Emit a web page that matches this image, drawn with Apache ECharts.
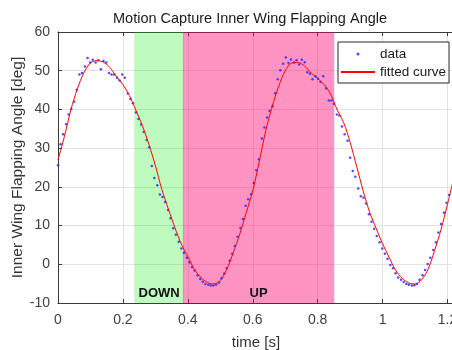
<!DOCTYPE html>
<html>
<head>
<meta charset="utf-8">
<script src="https://cdn.jsdelivr.net/npm/echarts@6/dist/echarts.min.js"></script>
<style>
  html, body { margin: 0; padding: 0; background: #fff; }
  #chart { width: 452px; height: 350px; }
</style>
</head>
<body>
<div id="chart"></div>
<script>
// measured samples
const dataTime = [
  0.000, 0.008, 0.016, 0.025, 0.033, 0.041, 0.050, 0.058, 0.066, 0.074,
  0.083, 0.091, 0.099, 0.107, 0.116, 0.124, 0.132, 0.140, 0.149, 0.157,
  0.165, 0.173, 0.182, 0.190, 0.198, 0.206, 0.215, 0.223, 0.231, 0.240,
  0.248, 0.256, 0.264, 0.273, 0.281, 0.289, 0.297, 0.306, 0.314, 0.322,
  0.330, 0.339, 0.347, 0.355, 0.363, 0.372, 0.380, 0.388, 0.397, 0.405,
  0.413, 0.421, 0.430, 0.438, 0.446, 0.454, 0.463, 0.471, 0.479, 0.487,
  0.496, 0.504, 0.512, 0.520, 0.529, 0.537, 0.545, 0.553, 0.562, 0.570,
  0.578, 0.586, 0.595, 0.603, 0.611, 0.619, 0.628, 0.636, 0.644, 0.652,
  0.661, 0.669, 0.677, 0.685, 0.694, 0.702, 0.710, 0.718, 0.727, 0.735,
  0.743, 0.751, 0.760, 0.768, 0.776, 0.784, 0.793, 0.801, 0.809, 0.817,
  0.826, 0.834, 0.842, 0.850, 0.859, 0.867, 0.875, 0.883, 0.892, 0.900,
  0.908, 0.916, 0.925, 0.933, 0.941, 0.949, 0.958, 0.966, 0.974, 0.982,
  0.991, 0.999, 1.007, 1.015, 1.024, 1.032, 1.040, 1.048, 1.057, 1.065,
  1.073, 1.081, 1.090, 1.098, 1.106, 1.114, 1.123, 1.131, 1.139, 1.147,
  1.156, 1.164, 1.172, 1.180, 1.189, 1.197, 1.205
];
const dataAngle = [
  25.6, 31.0, 33.6, 36.2, 38.7, 40.1, 42.0, 45.1, 49.0, 49.4,
  51.1, 53.3, 52.1, 52.8, 52.1, 52.7, 50.4, 52.5, 52.1, 49.4,
  49.0, 49.0, 48.2, 47.5, 49.0, 48.2, 44.1, 42.7, 41.6, 39.2,
  37.5, 36.1, 34.2, 32.1, 30.2, 25.4, 22.3, 20.4, 18.0, 17.4,
  16.1, 14.0, 11.9, 9.3, 7.6, 5.8, 4.1, 3.0, 1.7, 0.5,
  -0.7, -1.6, -2.8, -3.8, -4.5, -5.1, -5.3, -5.5, -5.5, -5.2,
  -4.7, -3.6, -2.4, -1.0, 0.9, 2.7, 4.7, 7.1, 9.4, 11.7,
  15.1, 16.8, 18.1, 21.0, 24.3, 27.1, 32.5, 35.3, 37.9, 39.6,
  40.8, 44.2, 47.8, 50.1, 51.8, 53.4, 52.0, 52.9, 52.1, 52.7,
  51.6, 52.8, 52.2, 49.6, 49.2, 47.8, 48.6, 47.9, 47.1, 48.6,
  45.5, 42.3, 42.3, 41.4, 38.7, 38.4, 35.6, 33.6, 31.9, 27.5,
  24.1, 22.6, 19.6, 17.6, 17.2, 15.7, 12.9, 11.0, 9.2, 7.3,
  5.7, 4.1, 2.7, 1.4, -0.2, -1.0, -2.3, -3.4, -4.0, -4.6,
  -5.1, -5.3, -5.5, -5.4, -5.1, -4.0, -2.8, -1.5, 0.1, 1.7,
  3.7, 5.7, 8.2, 10.4, 13.3, 15.9, 17.9
];

// fitted curve, read every 0.02 s
const fitTime = [
  0.00, 0.02, 0.04, 0.06, 0.08, 0.10, 0.12, 0.14, 0.16, 0.18,
  0.20, 0.22, 0.24, 0.26, 0.28, 0.30, 0.32, 0.34, 0.36, 0.38,
  0.40, 0.42, 0.44, 0.46, 0.48, 0.50, 0.52, 0.54, 0.56, 0.58,
  0.60, 0.62, 0.64, 0.66, 0.68, 0.70, 0.72, 0.74, 0.76, 0.78,
  0.80, 0.82, 0.84, 0.86, 0.88, 0.90, 0.92, 0.94, 0.96, 0.98,
  1.00, 1.02, 1.04, 1.06, 1.08, 1.10, 1.12, 1.14, 1.16, 1.18,
  1.20, 1.22
];
const fitAngle = [
  27.0, 33.1, 40.0, 45.4, 49.5, 52.0, 52.6, 52.2, 50.8, 48.5,
  46.4, 43.6, 39.8, 35.8, 31.0, 25.5, 19.3, 14.3, 9.5, 5.2,
  2.0, -1.3, -3.4, -4.7, -5.1, -4.2, -1.3, 3.0, 7.8, 13.4,
  19.0, 26.5, 34.5, 40.8, 46.0, 50.0, 52.0, 52.1, 51.2, 49.4,
  48.0, 46.4, 43.9, 39.9, 36.6, 31.5, 25.3, 19.0, 13.5, 9.3,
  5.3, 1.8, -1.5, -3.6, -4.8, -5.1, -4.0, -1.3, 3.5, 9.0,
  15.5, 22.5
];

// stroke phases [start, end] in s
const downPhase = [0.235, 0.388];
const upPhase = [0.385, 0.851];

const font = 'Liberation Sans, Arial, sans-serif';
const axisColor = '#3a3a3a';

const chart = echarts.init(document.getElementById('chart'));

const option = {
  animation: false,
  title: {
    text: 'Motion Capture Inner Wing Flapping Angle',
    left: 113,
    top: 11,
    padding: 0,
    textStyle: { fontFamily: font, fontSize: 14.5, fontWeight: 'normal', color: '#1a1a1a' }
  },
  legend: {
    orient: 'vertical',
    left: 338,
    top: 42,
    padding: [4, 3, 3, 2],
    itemWidth: 34,
    itemHeight: 3,
    itemGap: 2,
    backgroundColor: '#fff',
    borderColor: '#262626',
    borderWidth: 1,
    textStyle: { fontFamily: font, fontSize: 13.5, color: '#1a1a1a', lineHeight: 16 },
    data: [
      { name: 'data', icon: 'circle' },
      { name: 'fitted curve' }
    ]
  },
  grid: { left: 58, right: -2, top: 32, bottom: 47, containLabel: false, outerBoundsMode: 'none' },
  xAxis: [
    {
      type: 'value',
      min: 0,
      max: 1.22,
      interval: 0.2,
      name: 'time [s]',
      nameLocation: 'middle',
      nameGap: 32,
      nameMoveOverlap: false,
      nameTextStyle: { fontFamily: font, fontSize: 15, color: '#333' },
      axisLine: { onZero: false, lineStyle: { color: axisColor } },
      axisTick: { inside: true, length: 4, lineStyle: { color: axisColor } },
      axisLabel: { fontFamily: font, fontSize: 14, color: '#404040', margin: 10 },
      splitLine: { show: true, lineStyle: { color: '#e2e2e2' } }
    },
    {
      type: 'value',
      position: 'top',
      min: 0,
      max: 1.22,
      interval: 0.2,
      axisLine: { show: true, onZero: false, lineStyle: { color: axisColor } },
      axisTick: { inside: true, length: 4, lineStyle: { color: axisColor } },
      axisLabel: { show: false },
      splitLine: { show: false }
    }
  ],
  yAxis: {
    type: 'value',
    min: -10,
    max: 60,
    interval: 10,
    name: 'Inner Wing Flapping Angle [deg]',
    nameLocation: 'middle',
    nameGap: 32,
    nameMoveOverlap: false,
    nameTextStyle: { fontFamily: font, fontSize: 15.5, color: '#333' },
    axisLine: { show: true, onZero: false, lineStyle: { color: axisColor } },
    axisTick: { show: true, inside: true, length: 4, lineStyle: { color: axisColor } },
    axisLabel: { fontFamily: font, fontSize: 14, color: '#404040', margin: 8 },
    splitLine: { show: true, lineStyle: { color: '#e2e2e2' } }
  },
  series: [
    {
      name: 'data',
      type: 'scatter',
      symbol: 'circle',
      symbolSize: 2.5,
      itemStyle: { color: '#2020ff' },
      data: dataTime.map((t, i) => [t, dataAngle[i]]),
      z: 3
    },
    {
      name: 'fitted curve',
      type: 'line',
      smooth: 0.3,
      symbol: 'none',
      lineStyle: { color: '#ff0000', width: 1 },
      itemStyle: { color: '#ff0000' },
      data: fitTime.map((t, i) => [t, fitAngle[i]]),
      z: 4
    },
    {
      name: 'phases',
      type: 'line',
      data: [],
      z: 10,
      silent: true,
      markArea: {
        silent: true,
        label: {
          show: true,
          position: 'insideBottom',
          distance: 3,
          fontFamily: font,
          fontSize: 13,
          fontWeight: 'bold',
          color: '#111'
        },
        data: [
          [
            { name: 'DOWN', xAxis: downPhase[0], itemStyle: { color: 'rgba(0,235,0,0.25)' } },
            { xAxis: downPhase[1] }
          ],
          [
            { name: 'UP', xAxis: upPhase[0], itemStyle: { color: 'rgba(255,0,110,0.42)' } },
            { xAxis: upPhase[1] }
          ]
        ]
      }
    }
  ]
};

chart.setOption(option);
</script>
</body>
</html>
